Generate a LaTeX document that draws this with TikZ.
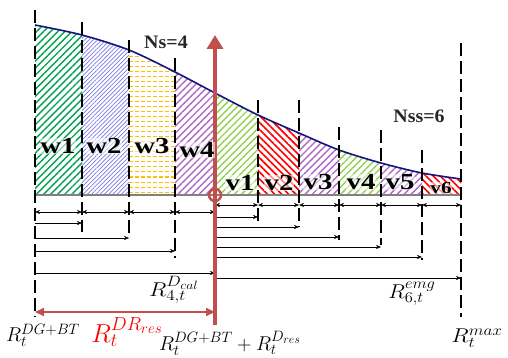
\RequirePackage{fix-cm}
\documentclass[tikz,border=0pt]{standalone}
\usepackage{fontspec}
\setmainfont{Liberation Serif}
\DeclareMathSizes{20}{20}{15}{12}
\DeclareMathSizes{26}{26}{19}{15}
\usetikzlibrary{patterns.meta,arrows.meta}
\definecolor{navyc}{RGB}{20,20,130}
\definecolor{gw}{RGB}{0,160,80}
\definecolor{bw}{RGB}{120,120,225}
\definecolor{yw}{RGB}{255,192,0}
\definecolor{pw}{RGB}{175,105,195}
\definecolor{lg}{RGB}{146,208,80}
\definecolor{rw}{RGB}{255,0,0}
\definecolor{ra}{RGB}{192,80,77}
\tikzset{
  region/.style={insert path={(35,195) -- plot[smooth] coordinates {(35,25) (82,35) (129,50) (175,72) (215,93) (258,115) (299,133) (339,150) (381,163) (422,173) (461,179)} -- (461,195) -- cycle}},
  ne/.style={pattern={Lines[angle=45,distance=5pt,line width=1.4pt]},pattern color=#1},
  nw/.style={pattern={Lines[angle=-45,distance=5pt,line width=1.6pt]},pattern color=#1},
  dl/.style={line width=2.3pt,dash pattern=on 13pt off 5pt},
  darr/.style={thin,{Stealth[length=5pt,width=4pt]}-{Stealth[length=5pt,width=4pt]}},
  sarr/.style={thin,-{Stealth[length=5pt,width=4pt]}},
  lab/.style={font=\fontsize{23}{23}\bfseries\selectfont,inner sep=0.5pt,fill=white,fill opacity=0.55,text opacity=1,xscale=1.25},
  nlab/.style={font=\fontsize{19}{19}\bfseries\selectfont,text=black!85,xscale=1.05},
  mlab/.style={font=\fontsize{20}{20}\selectfont,inner sep=0pt}
}
\begin{document}
\begin{tikzpicture}[x=1pt,y=-1pt]
\useasboundingbox (0,0) rectangle (508,358);
% fills
\foreach \xa/\xb/\st/\c in {35/82/ne/gw,175/215/ne/pw,215/258/ne/lg,258/299/nw/rw,299/339/ne/pw,339/381/ne/lg,381/422/ne/pw,422/461/nw/rw}{
  \begin{scope}\clip (\xa,0) rectangle (\xb,195);
  \fill[\st=\c,region];
  \end{scope}}
\begin{scope}\clip (82,0) rectangle (129,195);
  \fill[pattern={Lines[angle=45,distance=3pt,line width=0.7pt]},pattern color=bw,region];
\end{scope}
\begin{scope}\clip (129,0) rectangle (175,195); \clip[region];
  \foreach \yy in {42,47,...,195}{\draw[yw,line width=1pt,dash pattern=on 4pt off 2pt] (129,\yy) -- (175,\yy);}
\end{scope}
% curve and baseline
\draw[navyc,line width=1.6pt] plot[smooth] coordinates {(35,25) (82,35) (129,50) (175,72) (215,93) (258,115) (299,133) (339,150) (381,163) (422,173) (461,179)};
\draw[gray,line width=1.3pt] (35,195) -- (461,195);
% coordinates
\foreach \n/\x in {0/35,1/82,2/129,3/175,4/258,5/299,6/339,7/381,8/422,9/461}{\coordinate (X\n) at (\x,0);}
\coordinate (R) at (215,0);
% dashed verticals
\foreach \n/\t/\b in {0/10/317,1/22/232,2/40/238,3/58/258,4/100/222,5/100/227,6/127/240,7/130/245,8/150/260,9/43/317}{
  \draw[dl] (X\n |- 0,\t) -- (X\n |- 0,\b);}
% double arrows
\foreach \a/\b in {X0/X1,X1/X2,X2/X3,X3/R}{\draw[darr] (\a |- 0,212) -- (\b |- 0,212);}
\foreach \a/\b in {R/X4,X4/X5,X5/X6,X6/X7,X7/X8,X8/X9}{\draw[darr] (\a |- 0,205) -- (\b |- 0,205);}
% single arrows
\foreach \b/\yy in {X1/223,X2/238,X3/251,R/273}{\draw[sarr] (X0 |- 0,\yy) -- (\b |- 0,\yy);}
\foreach \b/\yy in {X4/217,X5/227,X6/237,X7/247,X8/257,X9/278}{\draw[sarr] (R |- 0,\yy) -- (\b |- 0,\yy);}
% red arrow
\draw[ra,line width=4pt,-{Triangle[width=16pt,length=14pt]}] (R |- 0,325) -- (R |- 0,35);
\draw[ra,line width=2.5pt] (R |- 0,195) circle (6);
\draw[ra,line width=2pt,{Triangle[width=8pt,length=9pt]}-{Triangle[width=8pt,length=9pt]}] (X0 |- 0,312) -- (R |- 0,312);
% labels
\node[lab] (w1) at (58,146) {w1};
\node[lab] (w2) at (104,146) {w2};
\node[lab] (w3) at (152,146) {w3};
\node[lab] (w4) at (197,150) {w4};
\node[lab] (v1) at (240,183) {v1};
\node[lab] (v2) at (279,183) {v2};
\node[lab] (v3) at (318,182) {v3};
\node[lab] (v4) at (361,182) {v4};
\node[lab] (v5) at (400,182) {v5};
\node[lab,font=\fontsize{17}{17}\bfseries\selectfont] (v6) at (441,188) {v6};
\node[nlab] (ns) at (166,42) {Ns=4};
\node[nlab] (nss) at (419,116) {Nss=6};
\node[mlab,xscale=1.15] (rcal) at (174,290) {$R_{4,t}^{D_{cal}}$};
\node[mlab,xscale=1.1] (remg) at (412,294) {$R_{6,t}^{emg}$};
\node[mlab] (rdg) at (43,335) {$R_t^{DG+BT}$};
\node[mlab,text=red,font=\fontsize{26}{26}\selectfont] (rdr) at (127,332) {$R_t^{DR_{res}}$};
\node[mlab] (rsum) at (230,343) {$R_t^{DG+BT}+R_t^{D_{res}}$};
\node[mlab,xscale=1.15] (rmax) at (477,338) {$R_t^{max}$};
\end{tikzpicture}
\end{document}
